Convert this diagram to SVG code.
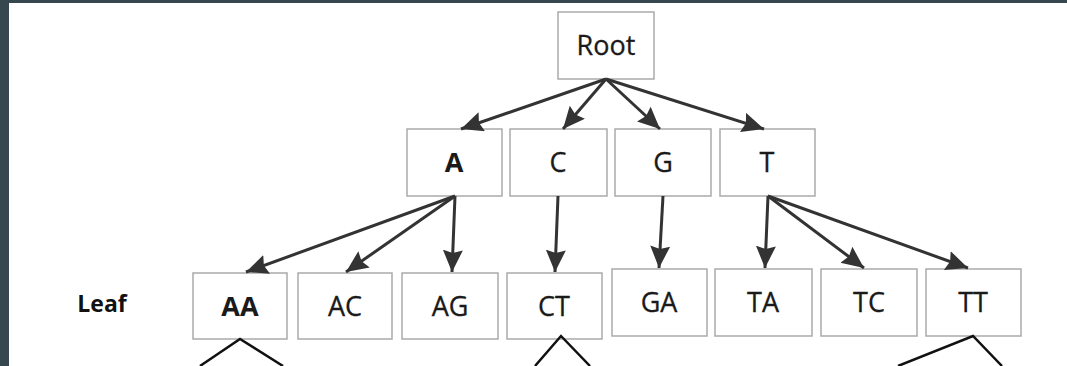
<svg xmlns="http://www.w3.org/2000/svg" width="1067" height="366" viewBox="0 0 1067 366">
<style>
.box{fill:#fff;stroke:#aaaaaa;stroke-width:1.5}
.lbl{font-family:"Open Sans","Liberation Sans",sans-serif;font-size:27px;fill:#1a1a1a;text-anchor:middle;stroke:#1a1a1a;stroke-width:0.3}
.b{font-weight:bold;stroke-width:0}
.arr{stroke:#333;stroke-width:3;fill:none;marker-end:url(#ah)}
.br{stroke:#111;stroke-width:2.5;fill:none}
</style>
<defs>
<marker id="ah" markerUnits="userSpaceOnUse" markerWidth="24" markerHeight="22" refX="22" refY="10" orient="auto">
<path d="M0,0 L22,10 L0,20 L3,10 z" fill="#333"/>
</marker>
</defs>
<rect x="0" y="0" width="1067" height="366" fill="#37474f"/>
<rect x="9" y="3" width="1058" height="363" fill="#fff"/>
<g id="root"><rect class="box" x="558" y="12" width="96" height="67"/><text class="lbl" x="606" y="55">Root</text></g>
<g id="A"><rect class="box" x="407" y="129" width="95" height="67"/><text class="lbl b" x="454" y="172">A</text></g>
<g id="C"><rect class="box" x="510" y="129" width="97" height="67"/><text class="lbl" x="558" y="172">C</text></g>
<g id="G"><rect class="box" x="615" y="129" width="96" height="67"/><text class="lbl" x="663" y="172">G</text></g>
<g id="T"><rect class="box" x="720" y="129" width="95" height="67"/><text class="lbl" x="767" y="172">T</text></g>
<g id="leaf"><text x="102" y="312" font-family="'Open Sans','Liberation Sans',sans-serif" font-size="23" font-weight="bold" fill="#111" text-anchor="middle">Leaf</text></g>
<g id="AA"><rect class="box" x="193" y="273" width="94" height="66"/><text class="lbl b" x="240" y="316">AA</text></g>
<g id="AC"><rect class="box" x="298" y="273" width="94" height="66"/><text class="lbl" x="345" y="316">AC</text></g>
<g id="AG"><rect class="box" x="402" y="273" width="96" height="66"/><text class="lbl" x="450" y="316">AG</text></g>
<g id="CT"><rect class="box" x="507" y="273" width="95" height="66"/><text class="lbl" x="554" y="316">CT</text></g>
<g id="GA"><rect class="box" x="612" y="269" width="95" height="67"/><text class="lbl" x="659" y="312">GA</text></g>
<g id="TA"><rect class="box" x="715" y="269" width="97" height="67"/><text class="lbl" x="763" y="312">TA</text></g>
<g id="TC"><rect class="box" x="821" y="269" width="96" height="67"/><text class="lbl" x="869" y="312">TC</text></g>
<g id="TT"><rect class="box" x="926" y="269" width="95" height="67"/><text class="lbl" x="973" y="312">TT</text></g>
<g id="connectors">
<line class="arr" x1="606" y1="79" x2="461" y2="129"/>
<line class="arr" x1="606" y1="79" x2="563" y2="129"/>
<line class="arr" x1="606" y1="79" x2="660" y2="129"/>
<line class="arr" x1="606" y1="79" x2="764" y2="129"/>
<line class="arr" x1="455" y1="196" x2="246" y2="272"/>
<line class="arr" x1="455" y1="196" x2="346" y2="272"/>
<line class="arr" x1="455" y1="196" x2="452" y2="272"/>
<line class="arr" x1="558" y1="196" x2="555" y2="272"/>
<line class="arr" x1="663" y1="196" x2="659" y2="268"/>
<line class="arr" x1="768" y1="196" x2="765" y2="268"/>
<line class="arr" x1="768" y1="196" x2="864" y2="268"/>
<line class="arr" x1="768" y1="196" x2="968" y2="268"/>
<polyline class="br" points="200,366 240,339 283,366"/>
<polyline class="br" points="535,366 561,336 590,366"/>
<polyline class="br" points="898,366 973,336 1002,366"/>
</g>
</svg>
